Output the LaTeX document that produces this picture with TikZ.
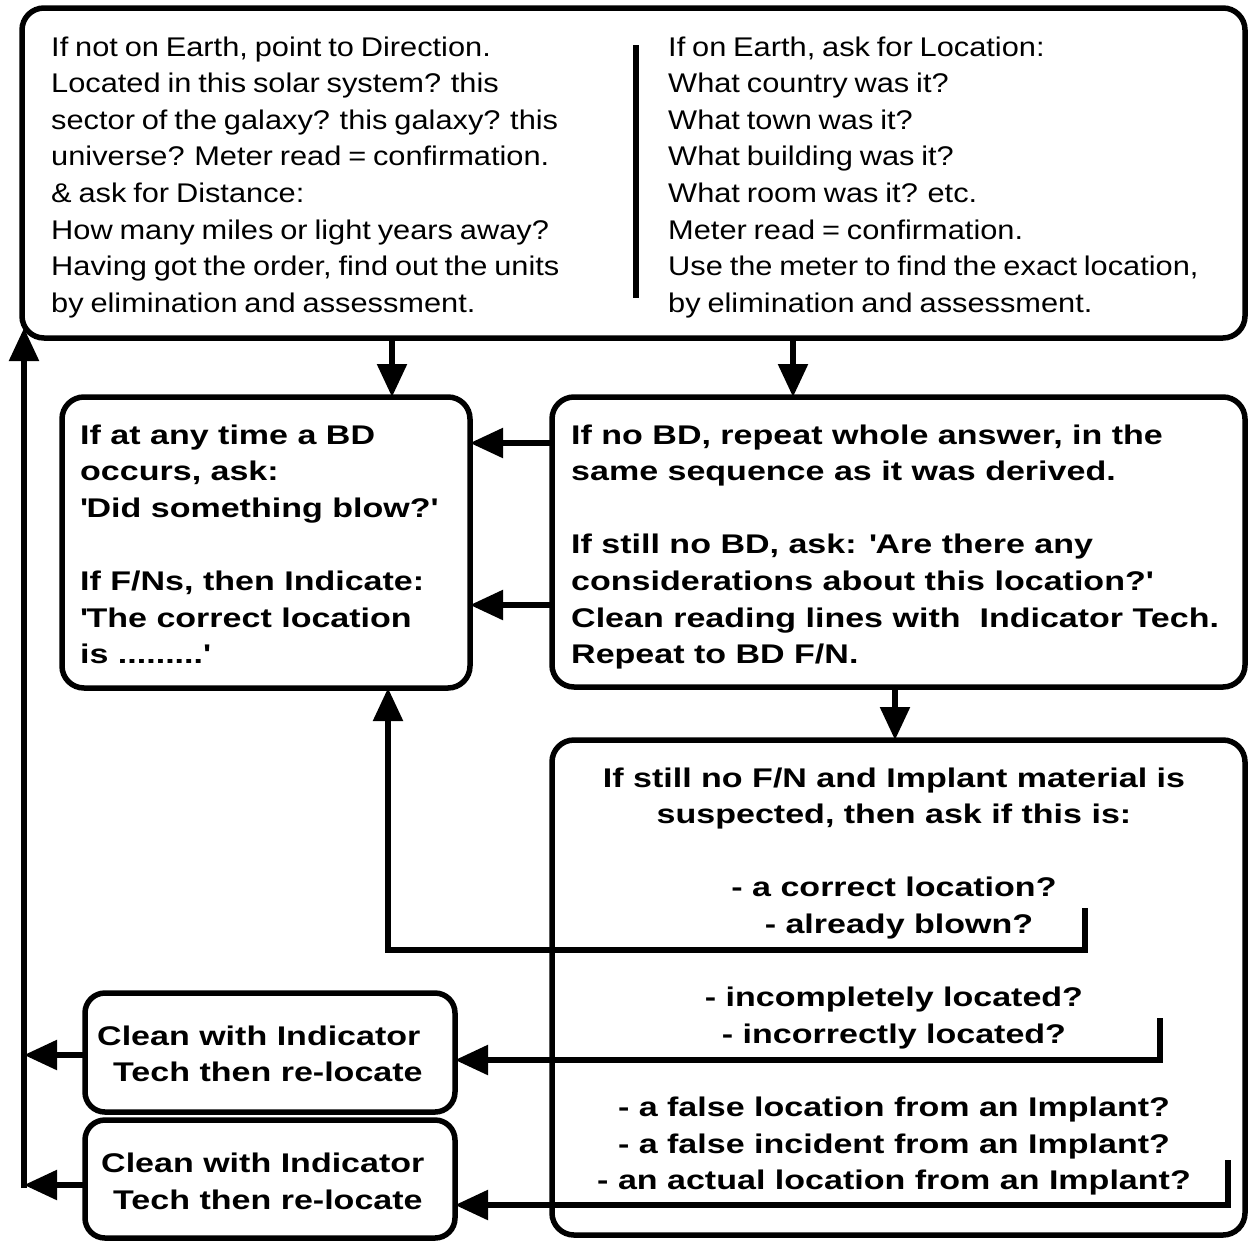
\documentclass[tikz,border=0pt]{standalone}
\usepackage{fontspec}
\setmainfont{Liberation Sans}
\newfontfamily\regw{Liberation Sans}[FakeStretch=1.14, WordSpace=0.8]
\newfontfamily\bldw{Liberation Sans}[FakeStretch=1.26]
\usetikzlibrary{arrows.meta}
\tikzset{
  box/.style={draw, line width=5.5pt, rounded corners=22pt, inner sep=0pt, outer sep=0pt},
  arr/.style={line width=5.5pt, -{Triangle[length=33pt,width=29pt]}},
  ln/.style={line width=5.5pt},
  regtext/.style={inner sep=0pt, anchor=north west, align=left, font=\regw\fontsize{27}{36.6}\selectfont},
  bldtext/.style={inner sep=0pt, anchor=north west, align=left, font=\bldw\bfseries\fontsize{27}{36.6}\selectfont},
  bldctr/.style={inner sep=0pt, anchor=north, align=center, font=\bldw\bfseries\fontsize{27}{36.6}\selectfont}
}
\begin{document}
\begin{tikzpicture}[x=1pt,y=-1pt]
\useasboundingbox (0,0) rectangle (1249,1242);
% boxes
\node[box, minimum width=1223pt, minimum height=330pt] (A) at (633.5,173) {};
\node[box, minimum width=408pt, minimum height=291pt] (B) at (266,542.5) {};
\node[box, minimum width=693pt, minimum height=290pt] (C) at (898.5,542) {};
\node[box, minimum width=693pt, minimum height=495pt] (D) at (898.5,987.5) {};
\node[box, minimum width=370pt, minimum height=119pt, rounded corners=20pt] (E) at (270,1052.5) {};
\node[box, minimum width=370pt, minimum height=118pt, rounded corners=20pt] (F) at (270,1179) {};
% texts
\node[regtext] (tA1) at (51,36.3) {If not on Earth, point to Direction.\\
Located in this solar system? this\\
sector of the galaxy? this galaxy? this\\
universe? Meter read = confirmation.\\
\& ask for Distance:\\
How many miles or light years away?\\
Having got the order, find out the units\\
by elimination and assessment.};
\node[regtext] (tA2) at (668,36.3) {If on Earth, ask for Location:\\
What country was it?\\
What town was it?\\
What building was it?\\
What room was it? etc.\\
Meter read = confirmation.\\
Use the meter to find the exact location,\\
by elimination and assessment.};
\node[bldtext] (tB) at (80,424.3) {If at any time a BD\\
occurs, ask:\\
\textquotesingle Did something blow?\textquotesingle\\[36.6pt]
If F/Ns, then Indicate:\\
\textquotesingle The correct location\\
is .........\textquotesingle};
\node[bldtext] (tC) at (571,424.3) {If no BD, repeat whole answer, in the\\
same sequence as it was derived.\\[36.6pt]
If still no BD, ask: \textquotesingle Are there any\\
considerations about this location?\textquotesingle\\
Clean reading lines with\ \ Indicator Tech.\\
Repeat to BD F/N.};
\node[bldctr] (tD) at (894,767.3) {If still no F/N and Implant material is\\
suspected, then ask if this is:\\[36.6pt]
- a correct location?\\
\hspace*{10pt}- already blown?\\[36.6pt]
- incompletely located?\\
- incorrectly located?\\[36.6pt]
- a false location from an Implant?\\
- a false incident from an Implant?\\
- an actual location from an Implant?};
\node[bldtext] (tE) at (97,1025.3) {Clean with Indicator\\
\hspace*{16pt}Tech then re-locate};
\node[bldtext] (tF) at (101,1153) {Clean with Indicator\\
\hspace*{12pt}Tech then re-locate};
% divider in top box
\coordinate (dv1) at (636,45);
\coordinate (dv2) at (636,298);
\draw[ln] (dv1) -- (dv2);
% helper coordinates
\coordinate (ax1) at (392,0);
\coordinate (ax2) at (793,0);
\coordinate (cy1) at (0,443);
\coordinate (cy2) at (0,605);
\coordinate (dx) at (895,0);
\coordinate (k1a) at (1085,908);
\coordinate (k1b) at (1085,950);
\coordinate (k1c) at (388,950);
\coordinate (k2a) at (1160,1018);
\coordinate (k2b) at (1160,1060);
\coordinate (k3a) at (1228,1160);
\coordinate (k3b) at (1228,1205);
\coordinate (ey) at (0,1055);
\coordinate (fy) at (0,1185);
\coordinate (lx) at (24,0);
\coordinate (lbot) at (24,1188);
\coordinate (ltop) at (24,328);
% connectors
\draw[arr] (A.south -| ax1) -- (B.north -| ax1);
\draw[arr] (A.south -| ax2) -- (C.north -| ax2);
\draw[arr] (C.west |- cy1) -- (B.east |- cy1);
\draw[arr] (C.west |- cy2) -- (B.east |- cy2);
\draw[arr] (C.south -| dx) -- (D.north -| dx);
\draw[arr] (k1a) -- (k1b) -- (k1c) -- (B.south -| k1c);
\draw[arr] (k2a) -- (k2b) -- (E.east |- k2b);
\draw[arr] (k3a) -- (k3b) -- (F.east |- k3b);
\draw[arr] (E.west |- ey) -- (lx |- ey);
\draw[arr] (F.west |- fy) -- (lx |- fy);
\draw[arr] (lbot) -- (ltop);
\end{tikzpicture}
\end{document}
